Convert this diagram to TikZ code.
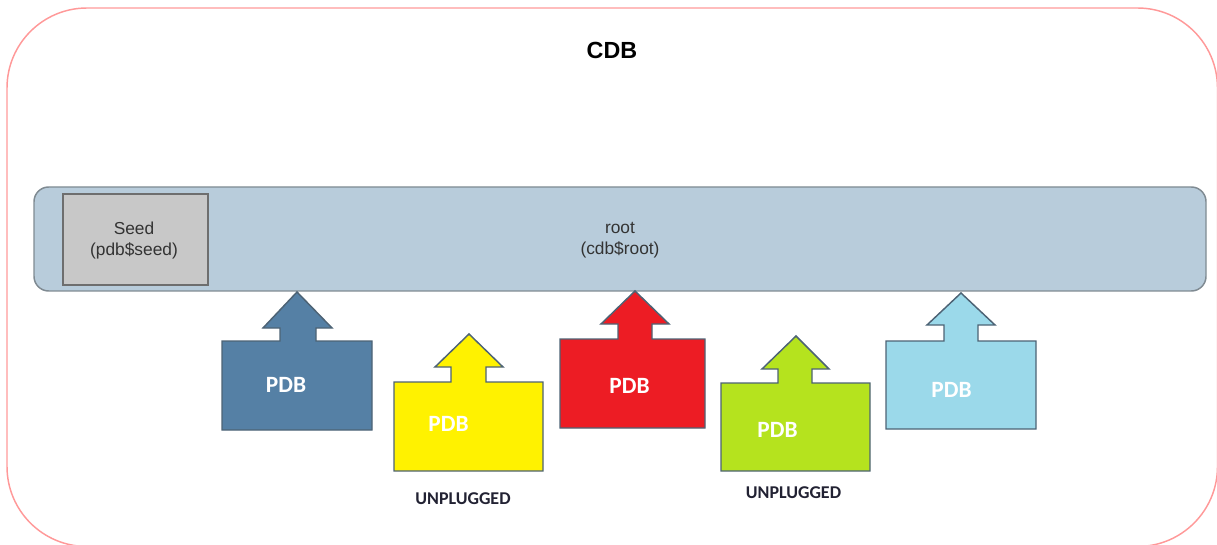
\documentclass[tikz,border=0pt]{standalone}
\usepackage{fontspec}
\setmainfont{Liberation Sans}
\newfontfamily\calib{Carlito}
\definecolor{outerline}{HTML}{FF9999}
\definecolor{barfill}{HTML}{B8CCDB}
\definecolor{barline}{HTML}{7F8A92}
\definecolor{seedfill}{HTML}{C8C8C8}
\definecolor{seedline}{HTML}{6E6E6E}
\definecolor{arrline}{HTML}{4D6375}
\definecolor{pdbblue}{HTML}{5580A5}
\definecolor{pdbyellow}{HTML}{FFF200}
\definecolor{pdbred}{HTML}{ED1C24}
\definecolor{pdbgreen}{HTML}{B5E31E}
\definecolor{pdblight}{HTML}{9BD9EA}
\definecolor{labeltext}{HTML}{222233}
\definecolor{graytext}{HTML}{333333}
\begin{document}
\begin{tikzpicture}[x=0.75pt,y=-0.75pt,
  pdbshape/.style={draw=arrline, line width=1.1pt, line join=miter},
  pdblabel/.style={text=white, font=\calib\fontsize{17.5}{20}\selectfont\bfseries, inner sep=0pt},
  unplabel/.style={text=labeltext, font=\calib\fontsize{13.5}{16}\selectfont\bfseries, inner sep=0pt},
  boxtext/.style={text=graytext, font=\fontsize{13}{15.75}\selectfont, align=center, inner sep=0pt}]
\useasboundingbox (0,0) rectangle (1217,545);
\begin{scope}
\clip (0,0) rectangle (1217,545);
\draw[outerline, line width=1.1pt, rounded corners=60pt] (7,8) rectangle (1217.5,546.5);
\end{scope}
\node[font=\fontsize{17.5}{20}\selectfont\bfseries, inner sep=0pt] (cdb) at (612,50) {CDB};
% root bar
\draw[fill=barfill, draw=barline, line width=1.1pt, rounded corners=11pt] (34,187) rectangle (1206,291);
\node[boxtext] (root) at (620,240) {root\\(cdb\$root)};
% seed
\draw[fill=seedfill, draw=seedline, line width=1pt] (63,194) rectangle (208,285);
\node[boxtext] (seed) at (134,241) {Seed\\(pdb\$seed)};
% PDB arrows
\draw[pdbshape, fill=pdbblue] (222,430) -- (222,341) -- (280,341) -- (280,328) -- (263,328) -- (297,292) -- (332,328) -- (316,328) -- (316,341) -- (372,341) -- (372,430) -- cycle;
\node[pdblabel] (pdb1) at (286,385) {PDB};
\draw[pdbshape, fill=pdbyellow] (394,471) -- (394,382) -- (451,382) -- (451,367) -- (435,367) -- (469,334) -- (503,367) -- (486,367) -- (486,382) -- (543,382) -- (543,471) -- cycle;
\node[pdblabel] (pdb2) at (448.5,424) {PDB};
\node[unplabel] (unp1) at (463,498.5) {UNPLUGGED};
\draw[pdbshape, fill=pdbred] (560,428) -- (560,339) -- (618,339) -- (618,324) -- (601,324) -- (635,291) -- (669,324) -- (652,324) -- (652,339) -- (705,339) -- (705,428) -- cycle;
\node[pdblabel] (pdb3) at (629.5,385.5) {PDB};
\draw[pdbshape, fill=pdbgreen] (721,471) -- (721,383) -- (778,383) -- (778,369) -- (762,369) -- (796,336) -- (829,369) -- (812,369) -- (812,383) -- (870,383) -- (870,471) -- cycle;
\node[pdblabel] (pdb4) at (777.5,430) {PDB};
\node[unplabel] (unp2) at (793.5,493) {UNPLUGGED};
\draw[pdbshape, fill=pdblight] (886,429) -- (886,341) -- (944,341) -- (944,325) -- (927,325) -- (961,293) -- (995,325) -- (978,325) -- (978,341) -- (1036,341) -- (1036,429) -- cycle;
\node[pdblabel] (pdb5) at (951.5,389.5) {PDB};
\end{tikzpicture}
\end{document}
